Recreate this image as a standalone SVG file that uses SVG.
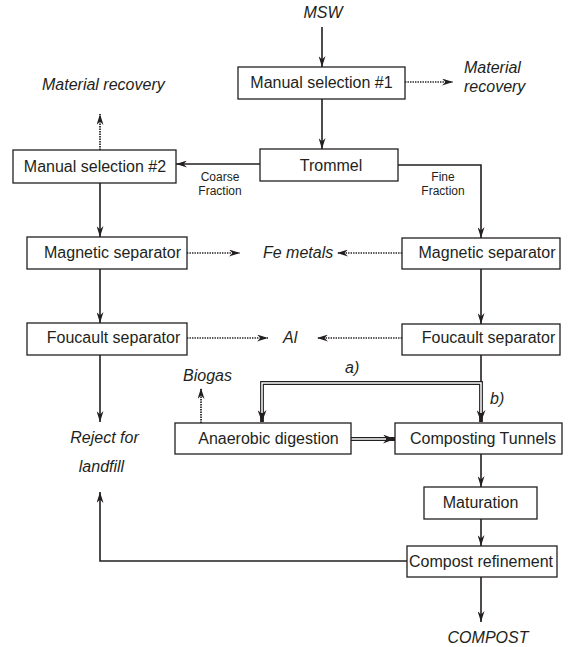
<svg xmlns="http://www.w3.org/2000/svg" width="570" height="647" viewBox="0 0 570 647">
  <defs>
    <marker id="ah" viewBox="0 0 11 7" refX="11" refY="3.5" markerWidth="11" markerHeight="7" markerUnits="userSpaceOnUse" orient="auto">
      <path d="M0,0 L11,3.5 L0,7 L3.5,3.5 z" fill="#231f20"/>
    </marker>
    <marker id="ahd" viewBox="0 0 12 9" refX="12" refY="4.5" markerWidth="12" markerHeight="9" markerUnits="userSpaceOnUse" orient="auto-start-reverse">
      <path d="M0,0 L12,4.5 L0,9 L4,4.5 z" fill="#231f20"/>
    </marker>
  </defs>
  <style>
    .box { fill: #fff; stroke: #231f20; stroke-width: 1.3; }
    .lbl { font-family: "Liberation Sans", Arial, sans-serif; font-size: 16px; fill: #231f20; text-anchor: middle; }
    .out { font-family: "Liberation Sans", Arial, sans-serif; font-size: 16px; font-style: italic; fill: #231f20; }
    .small { font-family: "Liberation Sans", Arial, sans-serif; font-size: 12px; fill: #231f20; text-anchor: middle; }
    .ln { fill: none; stroke: #231f20; stroke-width: 1.6; }
    .arr { marker-end: url(#ah); }
    .dot { fill: none; stroke: #231f20; stroke-width: 1.7; stroke-dasharray: 1.4 1.1; marker-end: url(#ah); }
    .dbl { fill: none; stroke: #231f20; stroke-width: 3.8; stroke-linejoin: miter; }
    .dblin { fill: none; stroke: #fff; stroke-width: 1.5; stroke-linejoin: miter; }
  </style>

  <rect width="570" height="647" fill="#fff"/>

  <!-- connectors -->
  <g id="connectors">
    <path class="ln arr" d="M322,27 V67"/>
    <path class="dot" d="M405,82 H453"/>
    <path class="ln arr" d="M322,99 V149"/>
    <path class="ln arr" d="M260,164 H176"/>
    <path class="ln arr" d="M398,165 H481 V238"/>
    <path class="dot" d="M100,150 V114"/>
    <path class="ln arr" d="M100,183 V237"/>
    <path class="dot" d="M187,253 H240"/>
    <path class="dot" d="M402,253 H337"/>
    <path class="ln arr" d="M100,269 V323"/>
    <path class="ln arr" d="M481,269 V324"/>
    <path class="dot" d="M187,338 H268"/>
    <path class="dot" d="M402,338 H317"/>
    <path class="ln arr" d="M100,355 V422"/>
    <path class="ln" d="M481,355 V382"/>
    <!-- a) / b) double-line split -->
    <path class="dbl" d="M262,422 V383 H481 V422" marker-start="url(#ahd)" marker-end="url(#ahd)"/>
    <path class="dblin" d="M262,413 V383 H481 V413"/>
    <path class="dot" d="M201,423 V388"/>
    <!-- anaerobic digestion to composting, double line -->
    <path class="dbl" d="M351,439 H395" marker-end="url(#ahd)"/>
    <path class="dblin" d="M350,439 H386"/>
    <path class="ln arr" d="M481,454 V487"/>
    <path class="ln arr" d="M481,519 V546"/>
    <path class="ln arr" d="M407,561 H100 V492"/>
    <path class="ln arr" d="M481,577 V622"/>
  </g>

  <!-- nodes -->
  <g id="msw"><text class="out" x="323" y="18" text-anchor="middle">MSW</text></g>

  <g id="manual1">
    <rect class="box" x="238" y="67" width="167" height="32"/>
    <text class="lbl" x="321.5" y="88">Manual selection #1</text>
  </g>

  <g id="recovery1">
    <text class="out" x="464" y="73">Material</text>
    <text class="out" x="464" y="92">recovery</text>
  </g>

  <g id="trommel">
    <rect class="box" x="260" y="149" width="138" height="32"/>
    <text class="lbl" x="331" y="171">Trommel</text>
  </g>

  <g id="coarse">
    <text class="small" x="220" y="181">Coarse</text>
    <text class="small" x="220" y="195">Fraction</text>
  </g>

  <g id="fine">
    <text class="small" x="443" y="181">Fine</text>
    <text class="small" x="443" y="195">Fraction</text>
  </g>

  <g id="manual2">
    <rect class="box" x="13" y="150" width="163" height="33"/>
    <text class="lbl" x="95" y="172">Manual selection #2</text>
  </g>

  <g id="recovery2"><text class="out" x="42" y="90">Material recovery</text></g>

  <g id="magnetic-left">
    <rect class="box" x="27" y="237" width="160" height="32"/>
    <text class="lbl" x="112.5" y="258">Magnetic separator</text>
  </g>

  <g id="magnetic-right">
    <rect class="box" x="402" y="238" width="158" height="31"/>
    <text class="lbl" x="487" y="258">Magnetic separator</text>
  </g>

  <g id="fe"><text class="out" x="263" y="258">Fe metals</text></g>

  <g id="foucault-left">
    <rect class="box" x="27" y="323" width="160" height="32"/>
    <text class="lbl" x="113.5" y="343">Foucault separator</text>
  </g>

  <g id="foucault-right">
    <rect class="box" x="402" y="324" width="158" height="31"/>
    <text class="lbl" x="488.5" y="343">Foucault separator</text>
  </g>

  <g id="al"><text class="out" x="283" y="343">Al</text></g>

  <g id="label-a"><text class="out" x="345" y="373">a)</text></g>
  <g id="label-b"><text class="out" x="490" y="404">b)</text></g>

  <g id="biogas"><text class="out" x="183" y="381">Biogas</text></g>

  <g id="reject">
    <text class="out" x="104.5" y="443" text-anchor="middle">Reject for</text>
    <text class="out" x="101.5" y="472" text-anchor="middle">landfill</text>
  </g>

  <g id="anaerobic">
    <rect class="box" x="175" y="423" width="176" height="31"/>
    <text class="lbl" x="268.5" y="444">Anaerobic digestion</text>
  </g>

  <g id="composting">
    <rect class="box" x="395" y="423" width="167" height="31"/>
    <text class="lbl" x="483" y="444">Composting Tunnels</text>
  </g>

  <g id="maturation">
    <rect class="box" x="424" y="487" width="113" height="32"/>
    <text class="lbl" x="480.5" y="508">Maturation</text>
  </g>

  <g id="refinement">
    <rect class="box" x="407" y="546" width="150" height="31"/>
    <text class="lbl" x="481" y="567">Compost refinement</text>
  </g>

  <g id="compost"><text class="out" x="488" y="643" text-anchor="middle">COMPOST</text></g>
</svg>
